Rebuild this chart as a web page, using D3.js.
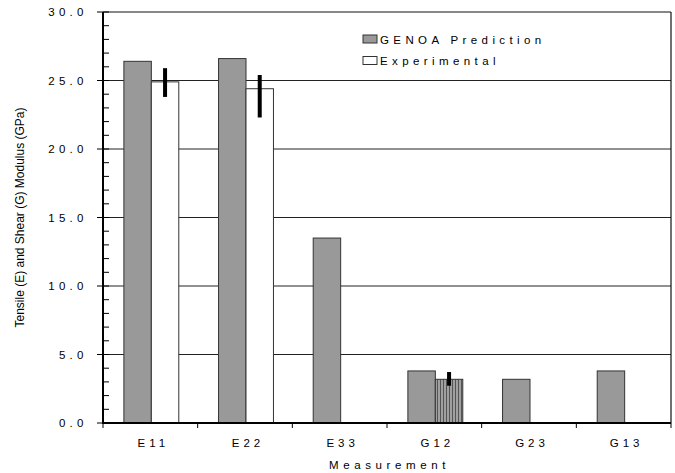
<!DOCTYPE html>
<html><head><meta charset="utf-8">
<script src="https://cdn.jsdelivr.net/npm/d3@7"></script>
<style>
body{margin:0;background:#fff;}
svg{display:block;font-family:"Liberation Sans",Arial,sans-serif;}
</style></head>
<body><svg id="c" width="675" height="473"></svg>
<script>
const categories = ["E11","E22","E33","G12","G23","G13"];
const seriesNames = ["GENOA Prediction","Experimental"];
const genoa = [26.4, 26.6, 13.5, 3.8, 3.19, 3.8];
const experimental = [24.9, 24.4, null, 3.19, null, null];
const errLow = [23.8, 22.3, null, 2.72, null, null];
const errHigh = [25.9, 25.4, null, 3.72, null, null];
const yTicks = [0, 5, 10, 15, 20, 25, 30];
const yTickLabels = ["0.0","5.0","10.0","15.0","20.0","25.0","30.0"];

const svg = d3.select("#c");
const L = 103, R = 671, T = 12, B = 423;

const defs = svg.append("defs");
const pat = defs.append("pattern").attr("id","stripes").attr("patternUnits","userSpaceOnUse")
  .attr("width",3).attr("height",10);
pat.append("rect").attr("width",3).attr("height",10).attr("fill","#a0a0a0");
pat.append("rect").attr("x",2).attr("width",1).attr("height",10).attr("fill","#555");

const x0 = d3.scaleBand().domain(categories).range([L + 1, R + 1]).paddingInner(0.42).paddingOuter(0.21);
const x1 = d3.scaleBand().domain(seriesNames).range([0, x0.bandwidth()]);
const y = d3.scaleLinear().domain([0, 30]).range([B, T]);

// gridlines
svg.append("g").selectAll("line").data(yTicks.filter(v => v > 0 && v < 30)).join("line")
  .attr("x1", L).attr("x2", R).attr("y1", d => y(d)).attr("y2", d => y(d))
  .attr("stroke", "#222").attr("stroke-width", 1);

// frame top and right
svg.append("line").attr("x1", L).attr("x2", R).attr("y1", y(30)).attr("y2", y(30)).attr("stroke","#111").attr("stroke-width",1.2);
svg.append("line").attr("x1", R).attr("x2", R).attr("y1", T).attr("y2", B).attr("stroke","#111").attr("stroke-width",1.2);

// bars
const gBars = svg.append("g");
categories.forEach((c, i) => {
  gBars.append("rect")
    .attr("x", x0(c) + x1(seriesNames[0])).attr("width", x1.bandwidth())
    .attr("y", y(genoa[i])).attr("height", y(0) - y(genoa[i]))
    .attr("fill", "#999999").attr("stroke", "#333").attr("stroke-width", 1);
  if (experimental[i] != null) {
    gBars.append("rect")
      .attr("x", x0(c) + x1(seriesNames[1])).attr("width", x1.bandwidth())
      .attr("y", y(experimental[i])).attr("height", y(0) - y(experimental[i]))
      .attr("fill", c === "G12" ? "url(#stripes)" : "#fff").attr("stroke", "#333").attr("stroke-width", 1);
  }
  if (errLow[i] != null) {
    const cx = x0(c) + x1(seriesNames[1]) + x1.bandwidth() / 2;
    gBars.append("line").attr("x1", cx).attr("x2", cx)
      .attr("y1", y(errHigh[i])).attr("y2", y(errLow[i]))
      .attr("stroke", "#000").attr("stroke-width", 4);
  }
});

// y axis
const gy = svg.append("g");
gy.append("line").attr("x1", L).attr("x2", L).attr("y1", T).attr("y2", B + 1).attr("stroke", "#000").attr("stroke-width", 2);
const minor = d3.range(0, 31, 1).filter(v => v % 5 !== 0);
gy.selectAll(".mn").data(minor).join("line").attr("class","mn")
  .attr("x1", L).attr("x2", L + 6).attr("y1", d => y(d)).attr("y2", d => y(d))
  .attr("stroke", "#000").attr("stroke-width", 1);
gy.selectAll(".mj").data(yTicks).join("line").attr("class","mj")
  .attr("x1", L - 6).attr("x2", L + 6).attr("y1", d => y(d)).attr("y2", d => y(d))
  .attr("stroke", "#000").attr("stroke-width", 1);
gy.selectAll("text").data(yTicks).join("text")
  .attr("x", L - 15.5).attr("y", d => y(d)).attr("dy", "0.35em")
  .attr("text-anchor", "end").attr("font-size", 11.5).attr("letter-spacing", "4.2px").attr("fill","#000")
  .text((d, i) => yTickLabels[i]);

// x axis
const gx = svg.append("g");
gx.append("line").attr("x1", L - 1).attr("x2", R).attr("y1", B).attr("y2", B).attr("stroke", "#000").attr("stroke-width", 2);
const bounds = d3.range(0, categories.length + 1).map(k => L + k * x0.step());
gx.selectAll(".xt").data(bounds).join("line").attr("class","xt")
  .attr("x1", d => d).attr("x2", d => d).attr("y1", B).attr("y2", B + 5)
  .attr("stroke", "#000").attr("stroke-width", 1);
gx.selectAll("text").data(categories).join("text")
  .attr("x", d => x0(d) + x0.bandwidth() / 2 + 2).attr("y", 447)
  .attr("text-anchor", "middle").attr("font-size", 11.5).attr("letter-spacing", "4px").attr("fill","#000")
  .text(d => d);

// axis titles
svg.append("text").attr("x", (L + R) / 2 + 2.5).attr("y", 469).attr("text-anchor", "middle")
  .attr("font-size", 11.5).attr("letter-spacing", "4.6px").attr("fill","#000").text("Measurement");
svg.append("text").attr("transform", `translate(24,${(T + B) / 2}) rotate(-90)`)
  .attr("text-anchor", "middle").attr("font-size", 12).attr("fill","#000")
  .text("Tensile (E) and Shear (G) Modulus (GPa)");

// legend
const leg = svg.append("g");
const legFill = ["#999999", "#fff"];
seriesNames.forEach((s, i) => {
  const yy = 35 + i * 21.5;
  leg.append("rect").attr("x", 363).attr("y", yy).attr("width", 14).attr("height", 8)
    .attr("fill", legFill[i]).attr("stroke", "#333").attr("stroke-width", 1);
  leg.append("text").attr("x", 380).attr("y", yy + 8.5).attr("font-size", 11.5)
    .attr("letter-spacing", "4.4px").attr("fill","#000").text(s);
});
</script></body></html>
